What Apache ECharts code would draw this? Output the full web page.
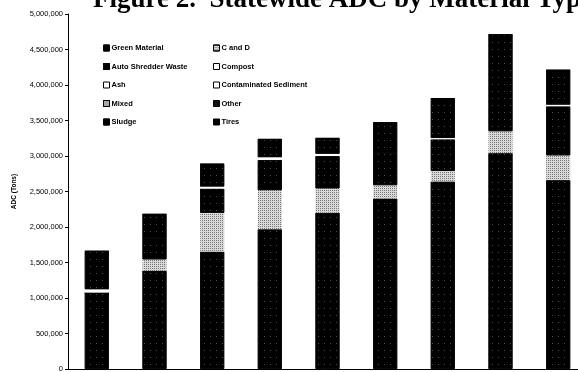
<!DOCTYPE html>
<html>
<head>
<meta charset="utf-8">
<script src="https://cdn.jsdelivr.net/npm/echarts@6/dist/echarts.min.js"></script>
<style>
html, body { margin: 0; padding: 0; background: #fff; }
#chart { width: 578px; height: 372px; }
</style>
</head>
<body>
<div id="chart"></div>
<script>
// 数据：每年的 ADC 分材料类型（吨）
var years = ['1995', '1996', '1997', '1998', '1999', '2000', '2001', '2002', '2003'];
var greenMaterial = [1075000, 1385000, 1652000, 1968000, 2200000, 2400000, 2640000, 3040000, 2660000];
var cAndD = [0, 160000, 548000, 552000, 345000, 190000, 150000, 310000, 350000];
var autoShredder = [0, 300000, 340000, 424000, 455000, 450000, 445000, 700000, 690000];
var compost = [55000, 0, 37000, 46000, 38000, 0, 25000, 0, 30000];
var ash = [0, 0, 0, 0, 0, 0, 0, 0, 0];
var contaminatedSediment = [0, 0, 0, 0, 0, 0, 0, 0, 0];
var mixed = [0, 0, 0, 0, 0, 0, 0, 0, 0];
var other = [0, 0, 0, 0, 0, 0, 0, 0, 0];
var sludge = [530000, 335000, 310000, 245000, 211000, 430000, 550000, 660000, 480000];
var tires = [0, 0, 0, 0, 0, 0, 0, 0, 0];
var yTicks = [0, 500000, 1000000, 1500000, 2000000, 2500000, 3000000, 3500000, 4000000, 4500000, 5000000];

var darkDots = {
    symbol: 'rect', symbolSize: 1, color: 'rgba(255,255,255,0.3)',
    dashArrayX: [1, 5], dashArrayY: [1, 6]
};
var lightDots = {
    symbol: 'rect', symbolSize: 1, color: 'rgba(0,0,0,0.45)',
    dashArrayX: [1, 1], dashArrayY: [1, 1]
};

function makeSeries(name, data, color, decal) {
    var s = {
        name: name,
        type: 'bar',
        stack: 'adc',
        barWidth: 24,
        data: data,
        itemStyle: { color: color }
    };
    // 黑色块加同色描边，盖住相邻块之间的缝
    if (color === '#000' || color === '#111') {
        s.itemStyle.borderColor = color;
        s.itemStyle.borderWidth = 0.8;
    }
    if (decal) s.itemStyle.decal = decal;
    return s;
}

var legendText = { fontSize: 7.5, fontFamily: 'Liberation Sans', fontWeight: 'bold', color: '#000', padding: [0, 0, 0, -3] };

var myChart = echarts.init(document.getElementById('chart'));
var option = {
    animation: false,
    backgroundColor: '#fff',
    title: {
        text: 'Figure 2.  Statewide ADC by Material Type',
        left: 88,
        top: -18,
        textStyle: {
            fontFamily: 'Liberation Serif',
            fontWeight: 'bold',
            fontSize: 27,
            color: '#000'
        }
    },
    legend: [{
        data: ['Green Material', 'Auto Shredder Waste', 'Ash', 'Mixed', 'Sludge'],
        orient: 'vertical',
        left: 98,
        top: 39,
        icon: 'rect',
        itemWidth: 6,
        itemHeight: 6,
        itemGap: 10.5,
        textStyle: legendText,
        itemStyle: { borderColor: '#000', borderWidth: 1 }
    }, {
        data: ['C and D', 'Compost', 'Contaminated Sediment', 'Other', 'Tires'],
        orient: 'vertical',
        left: 208,
        top: 39,
        icon: 'rect',
        itemWidth: 6,
        itemHeight: 6,
        itemGap: 10.5,
        textStyle: legendText,
        itemStyle: { borderColor: '#000', borderWidth: 1 }
    }],
    grid: {
        left: 68,
        top: 14,
        width: 519,
        height: 355,
        containLabel: false,
        outerBoundsMode: 'none'
    },
    xAxis: {
        type: 'category',
        data: years,
        axisLine: { lineStyle: { color: '#000', width: 1 } },
        axisTick: { show: false },
        axisLabel: { fontSize: 8, color: '#000', margin: 3 }
    },
    yAxis: {
        type: 'value',
        name: 'ADC (Tons)',
        nameLocation: 'middle',
        nameGap: 50,
        nameTextStyle: { fontSize: 6.5, fontWeight: 'bold', fontFamily: 'Liberation Sans', color: '#000' },
        min: yTicks[0],
        max: yTicks[yTicks.length - 1],
        interval: 500000,
        splitLine: { show: false },
        axisLine: { show: true, lineStyle: { color: '#000', width: 1 } },
        axisTick: { show: true, length: 3, lineStyle: { color: '#000' } },
        axisLabel: {
            fontSize: 7.5,
            fontFamily: 'Liberation Sans',
            color: '#000',
            margin: 5,
            formatter: function (v) { return v.toLocaleString('en-US'); }
        }
    },
    series: [
        makeSeries('Green Material', greenMaterial, '#000', darkDots),
        makeSeries('C and D', cAndD, '#d9d9d9', lightDots),
        makeSeries('Auto Shredder Waste', autoShredder, '#000', darkDots),
        makeSeries('Compost', compost, '#fff'),
        makeSeries('Ash', ash, '#fff'),
        makeSeries('Contaminated Sediment', contaminatedSediment, '#fff'),
        makeSeries('Mixed', mixed, '#bbb', lightDots),
        makeSeries('Other', other, '#111'),
        makeSeries('Sludge', sludge, '#000', darkDots),
        makeSeries('Tires', tires, '#000')
    ]
};
myChart.setOption(option);
</script>
</body>
</html>
